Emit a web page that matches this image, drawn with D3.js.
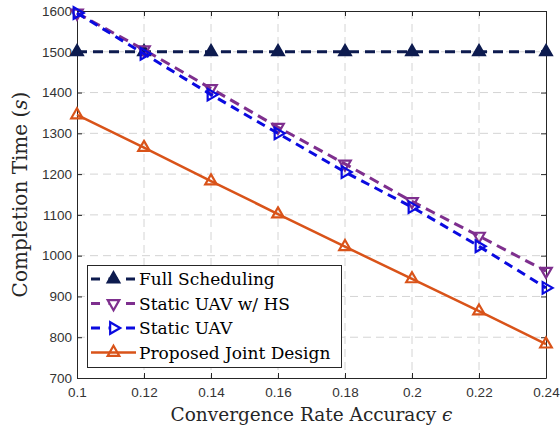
<!DOCTYPE html>
<html>
<head>
<meta charset="utf-8">
<script src="https://cdn.jsdelivr.net/npm/d3@7"></script>
<style>
  body { margin: 0; background: #fff; }
  svg { display: block; }
</style>
</head>
<body>
<svg width="560" height="427"></svg>
<script>
var xValues = [0.1, 0.12, 0.14, 0.16, 0.18, 0.2, 0.22, 0.24];
var fullScheduling = [1500, 1500, 1500, 1500, 1500, 1500, 1500, 1500];
var staticHS = [1595, 1505, 1410, 1315, 1225, 1133, 1048, 962];
var staticUAV = [1595, 1495, 1395, 1300, 1205, 1119, 1023, 921];
var proposed = [1345, 1265, 1183, 1102, 1022, 943, 864, 783];
var xTicks = [0.1, 0.12, 0.14, 0.16, 0.18, 0.2, 0.22, 0.24];
var yTicks = [700, 800, 900, 1000, 1100, 1200, 1300, 1400, 1500, 1600];

var mLeft = 77, mRight = 546, mTop = 11, mBottom = 378;
var serif = "'DejaVu Serif', 'Liberation Serif', serif";
var svg = d3.select("svg");

var x = d3.scaleLinear().domain([0.1, 0.24]).range([mLeft, mRight]);
var y = d3.scaleLinear().domain([700, 1600]).range([mBottom, mTop]);

// grid
var grid = svg.append("g").attr("stroke", "#d4d4d4").attr("stroke-width", 1)
  .attr("stroke-dasharray", "8,5");
grid.selectAll(".gx").data(xTicks.slice(1, -1)).enter().append("line")
  .attr("x1", d => x(d)).attr("x2", d => x(d)).attr("y1", mTop).attr("y2", mBottom);
grid.selectAll(".gy").data(yTicks.slice(1, -1)).enter().append("line")
  .attr("y1", d => y(d)).attr("y2", d => y(d)).attr("x1", mLeft).attr("x2", mRight);

// axes
var fmt = d => String(+d.toFixed(2));
var xAxis = svg.append("g").attr("transform", "translate(0," + mBottom + ")")
  .call(d3.axisBottom(x).tickValues(xTicks).tickFormat(fmt).tickSizeInner(-5).tickSizeOuter(0).tickPadding(9));
var yAxis = svg.append("g").attr("transform", "translate(" + mLeft + ",0)")
  .call(d3.axisLeft(y).tickValues(yTicks).tickFormat(d3.format("d")).tickSizeInner(-5).tickSizeOuter(0).tickPadding(5));
var xTop = svg.append("g").attr("transform", "translate(0," + mTop + ")")
  .call(d3.axisTop(x).tickValues(xTicks).tickFormat("").tickSizeInner(-5).tickSizeOuter(0));
var yRight = svg.append("g").attr("transform", "translate(" + mRight + ",0)")
  .call(d3.axisRight(y).tickValues(yTicks).tickFormat("").tickSizeInner(-5).tickSizeOuter(0));
[xAxis, yAxis, xTop, yRight].forEach(function(a) {
  a.selectAll("path").attr("stroke", "#262626").attr("stroke-width", 1);
  a.selectAll("line").attr("stroke", "#262626");
  a.selectAll("text").attr("fill", "#333").style("font-family", "'Liberation Sans', Arial, sans-serif").style("font-size", "13.5px");
});

var tri = d3.symbol().type(d3.symbolTriangle).size(58);

var series = [
  {name: "Full Scheduling", vals: fullScheduling, color: "#0d1b4f", dash: "10,6", width: 3, rot: 0, fill: true},
  {name: "Static UAV w/ HS", vals: staticHS, color: "#7e2f8e", dash: "10,6", width: 3, rot: 180, fill: false},
  {name: "Static UAV", vals: staticUAV, color: "#0a0ae0", dash: "9,6", width: 3, rot: 90, fill: false},
  {name: "Proposed Joint Design", vals: proposed, color: "#d95319", dash: null, width: 2.5, rot: 0, fill: false}
];

var line = d3.line().x((d, i) => x(xValues[i])).y(d => y(d));

series.forEach(function(s) {
  svg.append("path").datum(s.vals).attr("d", line).attr("fill", "none")
    .attr("stroke", s.color).attr("stroke-width", s.width)
    .attr("stroke-dasharray", s.dash);
  svg.selectAll(null).data(s.vals).enter().append("path")
    .attr("d", tri)
    .attr("transform", (d, i) => "translate(" + x(xValues[i]) + "," + y(d) + ") rotate(" + s.rot + ")")
    .attr("fill", s.fill ? s.color : "none")
    .attr("stroke", s.color).attr("stroke-width", 2.2);
});

// legend
var lg = svg.append("g");
lg.append("rect").attr("x", 87.5).attr("y", 265.5).attr("width", 254).attr("height", 102)
  .attr("fill", "#fff").attr("stroke", "#262626").attr("stroke-width", 1);
series.forEach(function(s, i) {
  var cy = 279 + i * 24.5;
  lg.append("line").attr("x1", 91).attr("x2", 136).attr("y1", cy).attr("y2", cy)
    .attr("stroke", s.color).attr("stroke-width", s.width)
    .attr("stroke-dasharray", s.dash ? "9,8.5" : null);
  lg.append("path").attr("d", tri)
    .attr("transform", "translate(113.5," + cy + ") rotate(" + s.rot + ")")
    .attr("fill", s.fill ? s.color : (s.dash ? "#fff" : "none"))
    .attr("stroke", s.color).attr("stroke-width", 2.2);
  lg.append("text").attr("x", 139).attr("y", cy + 6).text(s.name)
    .style("font-family", serif).style("font-size", "17px")
    .attr("fill", "#000");
});

// labels
svg.append("text").attr("x", (mLeft + mRight) / 2).attr("y", 421).attr("text-anchor", "middle")
  .style("font-family", serif).style("font-size", "18.5px")
  .attr("fill", "#262626")
  .text("Convergence Rate Accuracy ").append("tspan").style("font-style", "italic").text("ϵ");
var yl = svg.append("text").attr("transform", "translate(27," + ((mTop + mBottom) / 2) + ") rotate(-90)")
  .attr("text-anchor", "middle")
  .style("font-family", serif).style("font-size", "20px")
  .attr("fill", "#262626");
yl.append("tspan").text("Completion Time (");
yl.append("tspan").style("font-style", "italic").text("s");
yl.append("tspan").text(")");
</script>
</body>
</html>
